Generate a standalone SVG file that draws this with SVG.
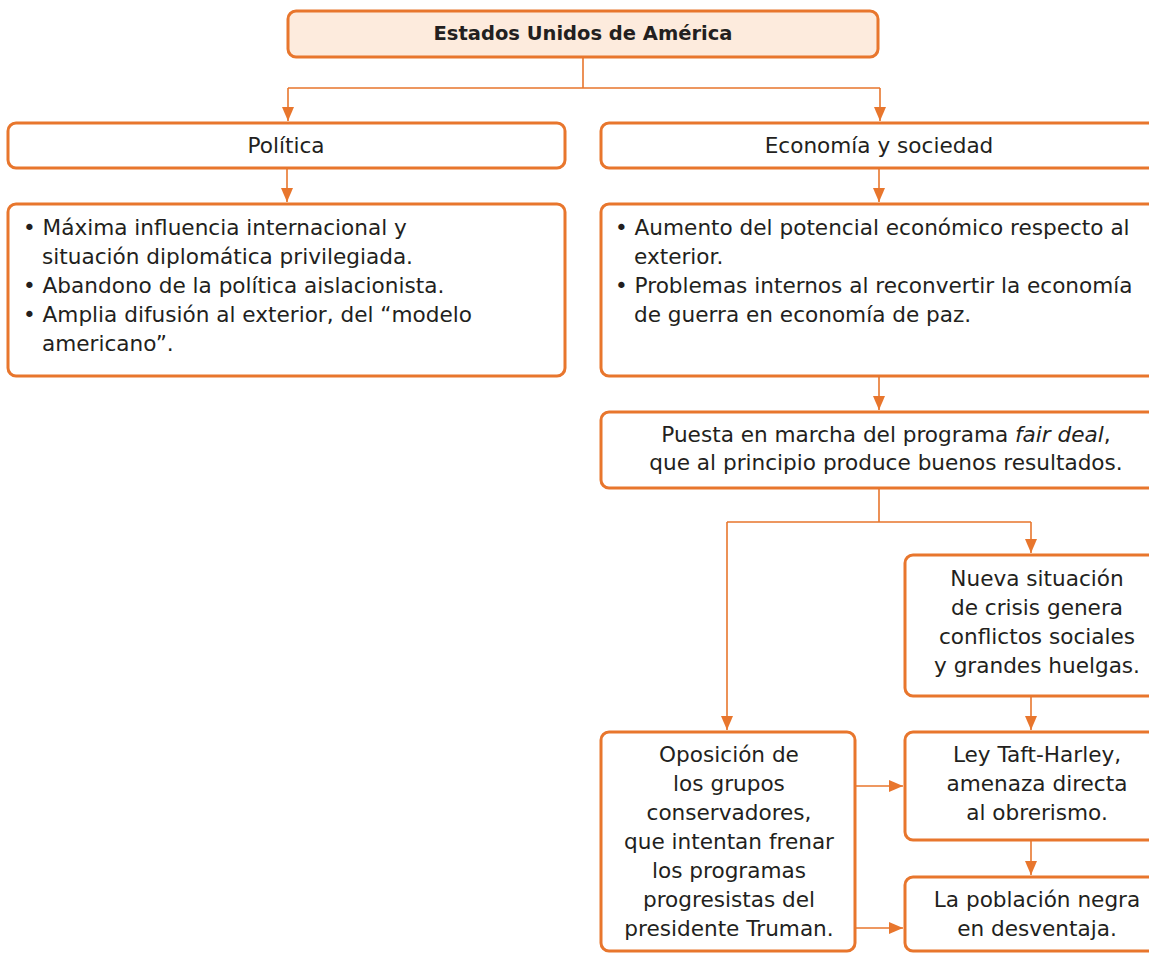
<svg xmlns="http://www.w3.org/2000/svg" width="1149" height="953" viewBox="0 0 1149 953">
<style>
.box{fill:#ffffff;stroke:#e8762d;stroke-width:3}
.title{fill:#fdebdd;stroke:#e8762d;stroke-width:3}
.t{font-family:"DejaVu Sans",sans-serif;font-size:21.6px;fill:#231f20}
.c{text-anchor:middle}
.b{font-weight:bold;font-size:19.5px}
.ln{fill:none;stroke:#e8762d;stroke-width:1.6}
</style>
<defs>
<marker id="ah" markerUnits="userSpaceOnUse" markerWidth="14" markerHeight="12" refX="14" refY="6" orient="auto">
<path d="M0,0 L14,6 L0,12 Z" fill="#e8762d"/>
</marker>
</defs>
<rect width="1149" height="953" fill="#ffffff"/>
<g id="connectors">
<path class="ln" d="M583,57 V88 M288,88 H880"/>
<path class="ln" d="M288,88 V121" marker-end="url(#ah)"/>
<path class="ln" d="M880,88 V121" marker-end="url(#ah)"/>
<path class="ln" d="M287,168 V202" marker-end="url(#ah)"/>
<path class="ln" d="M879,168 V202" marker-end="url(#ah)"/>
<path class="ln" d="M879,377 V410" marker-end="url(#ah)"/>
<path class="ln" d="M879,488 V522 M727,522 H1031"/>
<path class="ln" d="M1031,522 V553" marker-end="url(#ah)"/>
<path class="ln" d="M727,522 V730" marker-end="url(#ah)"/>
<path class="ln" d="M1031,696 V730" marker-end="url(#ah)"/>
<path class="ln" d="M1031,840 V875" marker-end="url(#ah)"/>
<path class="ln" d="M855,786 H903" marker-end="url(#ah)"/>
<path class="ln" d="M855,928 H903" marker-end="url(#ah)"/>
</g>
<g id="n-usa">
<rect class="title" x="288" y="11" width="590" height="46" rx="8"/>
<text class="t c b" x="583" y="40">Estados Unidos de América</text>
</g>
<g id="n-politica">
<rect class="box" x="8" y="123" width="557" height="45" rx="8"/>
<text class="t c" x="286" y="153">Política</text>
</g>
<g id="n-economia">
<rect class="box" x="601" y="123" width="570" height="45" rx="8"/>
<text class="t c" x="879" y="153">Economía y sociedad</text>
</g>
<g id="n-politica-detalle">
<rect class="box" x="8" y="204" width="557" height="172" rx="8"/>
<text class="t" x="23" y="235">• Máxima influencia internacional y</text>
<text class="t" x="42" y="264">situación diplomática privilegiada.</text>
<text class="t" x="23" y="293">• Abandono de la política aislacionista.</text>
<text class="t" x="23" y="322">• Amplia difusión al exterior, del “modelo</text>
<text class="t" x="42" y="351">americano”.</text>
</g>
<g id="n-economia-detalle">
<rect class="box" x="601" y="204" width="570" height="172" rx="8"/>
<text class="t" x="615" y="235">• Aumento del potencial económico respecto al</text>
<text class="t" x="634" y="264">exterior.</text>
<text class="t" x="615" y="293">• Problemas internos al reconvertir la economía</text>
<text class="t" x="634" y="322">de guerra en economía de paz.</text>
</g>
<g id="n-fairdeal">
<rect class="box" x="601" y="412" width="570" height="76" rx="8"/>
<text class="t c" x="886" y="442">Puesta en marcha del programa <tspan font-style="italic">fair deal</tspan>,</text>
<text class="t c" x="886" y="470">que al principio produce buenos resultados.</text>
</g>
<g id="n-crisis">
<rect class="box" x="905" y="555" width="266" height="141" rx="8"/>
<text class="t c" x="1037" y="586">Nueva situación</text>
<text class="t c" x="1037" y="615">de crisis genera</text>
<text class="t c" x="1037" y="644">conflictos sociales</text>
<text class="t c" x="1037" y="673">y grandes huelgas.</text>
</g>
<g id="n-oposicion">
<rect class="box" x="601" y="732" width="254" height="219" rx="8"/>
<text class="t c" x="729" y="762">Oposición de</text>
<text class="t c" x="729" y="791">los grupos</text>
<text class="t c" x="729" y="820">conservadores,</text>
<text class="t c" x="729" y="849">que intentan frenar</text>
<text class="t c" x="729" y="878">los programas</text>
<text class="t c" x="729" y="907">progresistas del</text>
<text class="t c" x="729" y="936">presidente Truman.</text>
</g>
<g id="n-taft">
<rect class="box" x="905" y="732" width="266" height="108" rx="8"/>
<text class="t c" x="1037" y="762">Ley Taft-Harley,</text>
<text class="t c" x="1037" y="791">amenaza directa</text>
<text class="t c" x="1037" y="820">al obrerismo.</text>
</g>
<g id="n-poblacion">
<rect class="box" x="905" y="877" width="266" height="74" rx="8"/>
<text class="t c" x="1037" y="907">La población negra</text>
<text class="t c" x="1037" y="936">en desventaja.</text>
</g>
</svg>
